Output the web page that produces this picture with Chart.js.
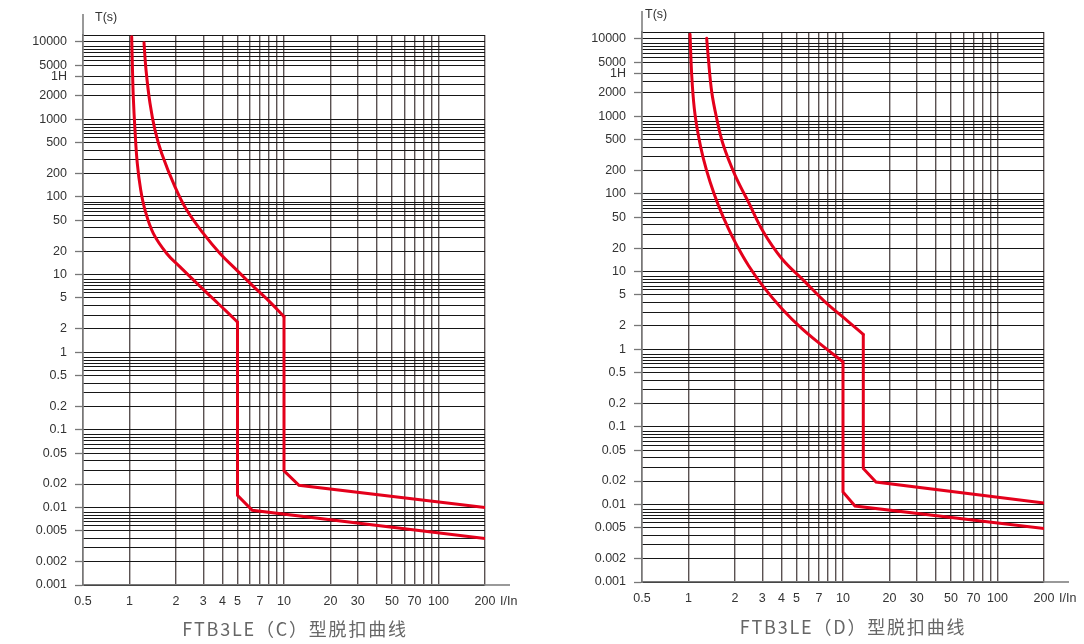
<!DOCTYPE html>
<html><head><meta charset="utf-8">
<script src="https://cdn.jsdelivr.net/npm/chart.js@4"></script>
<style>
html,body{margin:0;padding:0;background:#fff;width:1084px;height:644px;overflow:hidden;}
.wrap{position:absolute;top:0;width:542px;height:644px;}
.cap{position:absolute;font-family:"Noto Sans CJK SC","Noto Sans",sans-serif;font-size:18px;color:#666;letter-spacing:1.8px;white-space:nowrap;transform:translate(-50%,-50%);line-height:1;}
</style></head><body>
<div class="wrap" style="left:0"><canvas id="c1" width="542" height="644"></canvas></div>
<div class="wrap" style="left:542px"><canvas id="c2" width="542" height="644"></canvas></div>
<div class="cap" id="cap1" style="left:295px;top:628px"></div>
<div class="cap" id="cap2" style="left:853px;top:626px"></div>
<script>
// ---- axis definitions ----
const xGridValues = [0.5,1,2,3,4,5,6,7,8,9,10,20,30,40,50,60,70,80,90,100,200];
const xTickLabels = [0.5,1,2,3,4,5,7,10,20,30,50,70,100,200];
const yTickValues = [10000,5000,3600,2000,1000,500,200,100,50,20,10,5,2,1,0.5,0.2,0.1,0.05,0.02,0.01,0.005,0.002,0.001];
const yTickLabels = ['10000','5000','1H','2000','1000','500','200','100','50','20','10','5','2','1','0.5','0.2','0.1','0.05','0.02','0.01','0.005','0.002','0.001'];
const yDecades = [10000,1000,100,10,1,0.1,0.01];
const yMinorFactors = [0.86,0.79,0.72,0.65,0.58,0.4,0.3];
const yTopMinorFactors = [0.86,0.79,0.72,0.65,0.58,0.28];
const yMin = 0.001, yMax = 12200, xMin = 0.5, xMax = 200;

const captions = ['FTB3LE（C）型脱扣曲线','FTB3LE（D）型脱扣曲线'];
const axisTitleY = 'T(s)';
const axisTitleX = 'I/In';

// ---- C curve data (I/In, seconds) ----
const cTripLow_I  = [1.033,1.043,1.058,1.085,1.123,1.182,1.26,1.426,1.741,2.123,2.723,3.486,4.257,5];
const cTripLow_T  = [11600,5266,1954,727,270.6,122.5,67.7,33.9,18.7,12.57,7.75,4.85,3.33,2.44];
const cInstLow_I  = [5,5,6.23,200];
const cInstLow_T  = [2.44,0.0143,0.00918,0.00396];
const cTripHigh_I = [1.241,1.279,1.357,1.462,1.616,1.97,2.346,3.004,3.853,4.942,6.33,8.12,10];
const cTripHigh_T = [9700,4317,1607,727,364,135.1,67.7,33.9,18.7,11.4,7.05,4.41,2.87];
const cInstHigh_I = [10,10,12.5,200];
const cInstHigh_T = [2.87,0.0295,0.0193,0.00995];

// ---- D curve data ----
const dTripLow_I  = [1.023,1.049,1.09,1.157,1.247,1.378,1.559,1.81,2.051,2.438,3.049,4.01,5.4,7.28,10];
const dTripLow_T  = [11400,3404,1267,573,287,143.4,71.8,35.9,21.9,12.07,6.39,3.35,1.85,1.125,0.685];
const dInstLow_I  = [10,10,11.96,200];
const dInstLow_T  = [0.685,0.01445,0.00954,0.00488];
const dTripHigh_I = [1.311,1.344,1.413,1.522,1.68,2.0,2.438,3.049,4.01,5.68,7.65,10.82,13.53];
const dTripHigh_T = [10100,5589,2074,941,426,175,79.2,32.5,14.75,7.37,4.07,2.27,1.546];
const dInstHigh_I = [13.53,13.53,16.35,200];
const dInstHigh_T = [1.546,0.029,0.01945,0.01043];

// ---- build grid values ----
const key = v => Number(v).toPrecision(6);
const yLabelMap = new Map(yTickValues.map((v,i)=>[key(v), yTickLabels[i]]));
const xLabelSet = new Set(xTickLabels.map(key));
let yGrid = [yMax, ...yTickValues];
yDecades.forEach(d => (d === 10000 ? yTopMinorFactors : yMinorFactors).forEach(f => yGrid.push(d*f)));
const seen = new Set();
yGrid = yGrid.filter(v => { const k = key(v); if (seen.has(k)) return false; seen.add(k); return true; }).sort((a,b)=>a-b);

const RED = '#e4001b';
const FONT = "'Liberation Sans', Arial, sans-serif";
const pts = (I,T) => I.map((x,i)=>({x, y:T[i]}));
const curveDs = (I,T) => ({data: pts(I,T), borderColor: RED, borderWidth: 3, pointRadius: 0, fill: false,
  tension: 0.4, borderCapStyle: 'round', borderJoinStyle: 'round'});
const lineDs = (I,T) => ({data: pts(I,T), borderColor: RED, borderWidth: 3, pointRadius: 0, fill: false,
  tension: 0, borderCapStyle: 'round', borderJoinStyle: 'miter'});

const axisExtras = {
  id: 'axisExtras',
  afterDraw(chart, args, o) {
    const {ctx, chartArea: a} = chart;
    ctx.save();
    ctx.strokeStyle = '#777'; ctx.lineWidth = 1.5;
    ctx.beginPath(); ctx.moveTo(a.left, a.top + 1); ctx.lineTo(a.left, a.top - o.up); ctx.stroke();
    ctx.beginPath(); ctx.moveTo(a.right - 1, a.bottom); ctx.lineTo(a.right + o.right, a.bottom); ctx.stroke();
    ctx.fillStyle = '#333'; ctx.font = '12.5px ' + FONT;
    ctx.textBaseline = 'middle'; ctx.textAlign = 'left';
    ctx.fillText(axisTitleY, a.left + o.yDx, a.top - 17);
    ctx.fillText(axisTitleX, a.right + 15, a.bottom + 17);
    ctx.restore();
  }
};

function makeChart(id, datasets, area, extras) {
  const W = 542, H = 644;
  return new Chart(document.getElementById(id), {
    type: 'line',
    data: { datasets },
    plugins: [axisExtras],
    options: {
      responsive: false, devicePixelRatio: 1, animation: false,
      layout: { autoPadding: false, padding: { top: area.top, right: W - area.right, bottom: 0, left: 0 } },
      plugins: { legend: { display: false }, tooltip: { enabled: false }, title: { display: false },
        axisExtras: extras },
      scales: {
        x: {
          type: 'logarithmic', min: xMin, max: xMax,
          afterBuildTicks: s => { s.ticks = xGridValues.map(v => ({value: v})); },
          afterFit: s => { s.height = H - area.bottom; },
          ticks: { autoSkip: false, maxRotation: 0, minRotation: 0, padding: 9, color: '#333',
            font: { size: 12.5, family: FONT },
            callback: v => xLabelSet.has(key(v)) ? String(v) : '' },
          grid: { color: '#5a5252', lineWidth: 1.4, drawTicks: false },
          border: { color: '#777', width: 1.5 }
        },
        y: {
          type: 'logarithmic', min: yMin, max: yMax,
          afterBuildTicks: s => { s.ticks = yGrid.map(v => ({value: v})); },
          afterFit: s => { s.width = area.left; },
          ticks: { autoSkip: false, padding: 8, color: '#333', font: { size: 12.5, family: FONT },
            callback: v => yLabelMap.get(key(v)) || '' },
          grid: { color: '#161616', lineWidth: 1, tickLength: 8, tickWidth: 1.3,
            tickColor: c => (c.tick && c.tick.label) ? '#777' : 'rgba(0,0,0,0)' },
          border: { color: '#777', width: 1.5 }
        }
      }
    }
  });
}

makeChart('c1', [
  curveDs(cTripLow_I, cTripLow_T), lineDs(cInstLow_I, cInstLow_T),
  curveDs(cTripHigh_I, cTripHigh_T), lineDs(cInstHigh_I, cInstHigh_T)
], {left: 83, right: 485, top: 35, bottom: 585}, {up: 21, right: 25, yDx: 12});

makeChart('c2', [
  curveDs(dTripLow_I, dTripLow_T), lineDs(dInstLow_I, dInstLow_T),
  curveDs(dTripHigh_I, dTripHigh_T), lineDs(dInstHigh_I, dInstHigh_T)
], {left: 100, right: 502, top: 32, bottom: 582}, {up: 21, right: 25, yDx: 3});

document.getElementById('cap1').textContent = captions[0];
document.getElementById('cap2').textContent = captions[1];
</script>
</body></html>
